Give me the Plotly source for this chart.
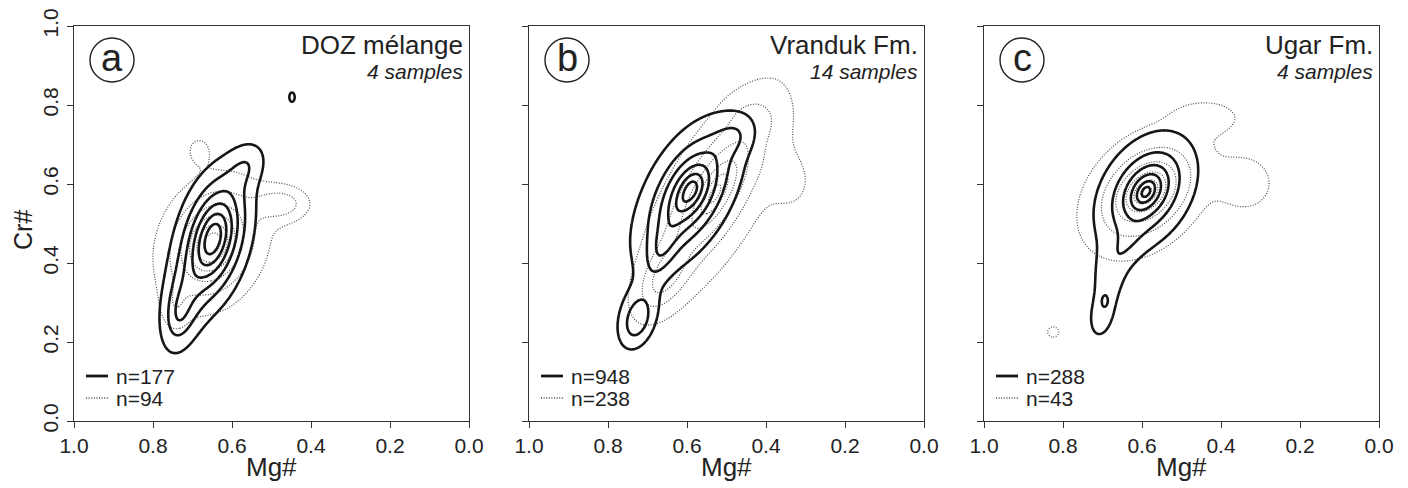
import numpy as np
import plotly.graph_objects as go

# ---------------- data ----------------
panel_letters = ["a", "b", "c"]
panel_titles = ["DOZ mélange", "Vranduk Fm.", "Ugar Fm."]
panel_samples = ["4 samples", "14 samples", "4 samples"]
n_solid = [177, 948, 288]
n_dotted = [94, 238, 43]

x_ticks = [0.0, 0.2, 0.4, 0.6, 0.8, 1.0]
y_ticks = [0.0, 0.2, 0.4, 0.6, 0.8, 1.0]

# density modes:
# (Mg#, Cr#, spread Mg#, spread Cr#, correlation, peakedness, relative height)
doz_solid = [(0.648, 0.462, 0.070, 0.130, -0.35, 1.5, 1.00),
             (0.732, 0.275, 0.045, 0.095, -0.30, 1.6, 0.36),
             (0.560, 0.650, 0.050, 0.060, -0.30, 2.0, 0.17),
             (0.448, 0.820, 0.016, 0.028, 0.00, 2.0, 0.17)]
doz_dotted = [(0.650, 0.450, 0.090, 0.110, -0.20, 1.3, 1.00),
              (0.470, 0.550, 0.070, 0.045, 0.00, 2.0, 0.30),
              (0.685, 0.690, 0.040, 0.045, 0.00, 2.0, 0.13),
              (0.745, 0.285, 0.035, 0.060, 0.00, 2.0, 0.14)]
vran_solid = [(0.588, 0.588, 0.050, 0.070, -0.30, 1.0, 0.40),
              (0.600, 0.570, 0.100, 0.140, -0.60, 1.3, 0.60),
              (0.726, 0.255, 0.048, 0.075, -0.30, 2.0, 0.32),
              (0.480, 0.720, 0.050, 0.050, -0.30, 2.0, 0.13),
              (0.665, 0.430, 0.040, 0.070, -0.50, 2.0, 0.18)]
vran_dotted = [(0.530, 0.575, 0.100, 0.150, -0.70, 1.0, 1.00),
               (0.660, 0.360, 0.060, 0.080, -0.50, 2.0, 0.30),
               (0.330, 0.600, 0.060, 0.080, 0.00, 2.0, 0.12),
               (0.430, 0.770, 0.060, 0.050, 0.00, 2.0, 0.10)]
ugar_solid = [(0.590, 0.580, 0.068, 0.080, -0.35, 1.0, 1.00),
              (0.640, 0.440, 0.045, 0.060, -0.50, 2.0, 0.10),
              (0.685, 0.350, 0.045, 0.090, -0.20, 2.0, 0.15),
              (0.705, 0.255, 0.035, 0.060, -0.20, 2.0, 0.16),
              (0.694, 0.305, 0.012, 0.020, 0.00, 2.0, 0.10)]
ugar_dotted = [(0.590, 0.580, 0.090, 0.090, -0.35, 1.0, 1.00),
               (0.330, 0.600, 0.070, 0.070, 0.00, 2.0, 0.20),
               (0.430, 0.770, 0.080, 0.040, 0.00, 2.0, 0.16),
               (0.825, 0.225, 0.026, 0.024, 0.00, 2.0, 0.17)]

solid_sets = [doz_solid, vran_solid, ugar_solid]
dotted_sets = [doz_dotted, vran_dotted, ugar_dotted]

# ---------------- figure ----------------
FONT = "Liberation Sans, Arial, sans-serif"
TXT = "#222222"
W, H = 1408, 488
OFF = 8  # the page body margin shifts the figure by this much
left_px = [74 - OFF, 529 - OFF, 984 - OFF]
plot_w = 395
top_px, bot_px = 26 - OFF, 421 - OFF

gx = np.linspace(0, 1, 401)
gy = np.linspace(0, 1, 401)
GX, GY = np.meshgrid(gx, gy)


def density(comps):
    z = np.zeros_like(GX)
    for mx, my, sx, sy, r, p, a in comps:
        dx = (GX - mx) / sx
        dy = (GY - my) / sy
        q = (dx * dx - 2 * r * dx * dy + dy * dy) / (1 - r * r)
        z += a * np.exp(-np.power(np.sqrt(q), p))
    return z / z.max()


SOLID = dict(color="#161616", width=2.6, dash="solid")
DOT = dict(color="#4a4a4a", width=1.2, dash="1px,1.6px")

fig = go.Figure()
ydom = [1 - bot_px / H, 1 - top_px / H]

for i in range(3):
    xa = "x" if i == 0 else f"x{i+1}"
    ya = "y" if i == 0 else f"y{i+1}"
    for comps, st in ((dotted_sets[i], DOT), (solid_sets[i], SOLID)):
        fig.add_trace(go.Contour(
            x=gx, y=gy, z=density(comps), xaxis=xa, yaxis=ya,
            contours=dict(start=1 / 7, end=6 / 7 + 1e-6, size=1 / 7, coloring="lines"),
            colorscale=[[0, st["color"]], [1, st["color"]]], showscale=False,
            line=dict(width=st["width"], dash=st["dash"], smoothing=1.3),
            hoverinfo="skip"))

    d0 = left_px[i] / W
    d1 = (left_px[i] + plot_w) / W
    axis_common = dict(showgrid=False, zeroline=False, showline=True, mirror=True,
                       automargin=False,
                       linecolor="#333333", linewidth=1.4, ticks="outside", ticklen=6,
                       tickwidth=1.3, tickcolor="#333333",
                       tickfont=dict(family=FONT, size=21, color=TXT))
    fig.layout[("xaxis" if i == 0 else f"xaxis{i+1}")] = dict(
        domain=[d0, d1], range=[1, 0], anchor=ya, tickvals=x_ticks,
        ticktext=[f"{v:.1f}" for v in x_ticks], **axis_common)
    fig.layout[("yaxis" if i == 0 else f"yaxis{i+1}")] = dict(
        domain=ydom, range=[0, 1], anchor=xa, tickvals=y_ticks,
        ticktext=[f"{v:.1f}" for v in y_ticks], tickangle=-90,
        showticklabels=(i == 0), **axis_common)

    xd = f"{xa} domain"
    yd = f"{ya} domain"
    # circled letter
    cx, cy, rad = 38 / plot_w, 1 - 34 / plot_w, 22 / plot_w
    fig.add_shape(type="circle", xref=xd, yref=yd, x0=cx - rad, x1=cx + rad,
                  y0=cy - rad, y1=cy + rad, line=dict(color=TXT, width=1.4))
    fig.add_annotation(xref=xd, yref=yd, x=cx, y=cy + 0.004, text=panel_letters[i],
                       showarrow=False, font=dict(family=FONT, size=38, color=TXT),
                       xanchor="center", yanchor="middle")
    # titles
    fig.add_annotation(xref=xd, yref=yd, x=1 - 4 / plot_w, y=1 - 19 / plot_w,
                       text=panel_titles[i], showarrow=False, xanchor="right", yanchor="middle",
                       font=dict(family=FONT, size=26, color=TXT))
    fig.add_annotation(xref=xd, yref=yd, x=1 - 4 / plot_w, y=1 - 46 / plot_w,
                       text=f"<i>{panel_samples[i]}</i>", showarrow=False, xanchor="right",
                       yanchor="middle", font=dict(family=FONT, size=21, color=TXT))
    # legend
    for k, (lab, st) in enumerate(((f"n={n_solid[i]}", SOLID), (f"n={n_dotted[i]}", DOT))):
        yy = (45 - 22 * k) / plot_w
        fig.add_shape(type="line", xref=xd, yref=yd, x0=12 / plot_w, x1=34 / plot_w, y0=yy, y1=yy,
                      line=dict(color=st["color"], width=st["width"] + 0.2, dash=st["dash"]))
        fig.add_annotation(xref=xd, yref=yd, x=40 / plot_w, y=yy, text=lab, showarrow=False,
                           xanchor="left", yanchor="middle",
                           font=dict(family=FONT, size=21, color=TXT))
    # x-axis title
    fig.add_annotation(xref=xd, yref="paper", x=0.5, y=1 - (467 - OFF) / H, text="Mg#",
                       showarrow=False, xanchor="center", yanchor="middle",
                       font=dict(family=FONT, size=26, color=TXT))

fig.add_annotation(xref="paper", yref="paper", x=15 / W, y=1 - (230 - OFF) / H, text="Cr#",
                   showarrow=False, textangle=-90, xanchor="center", yanchor="middle",
                   font=dict(family=FONT, size=25, color=TXT))

fig.update_layout(width=W, height=H, margin=dict(l=0, r=0, t=0, b=0, autoexpand=False),
                  paper_bgcolor="white", plot_bgcolor="white", showlegend=False)

fig.write_html("out.html")
